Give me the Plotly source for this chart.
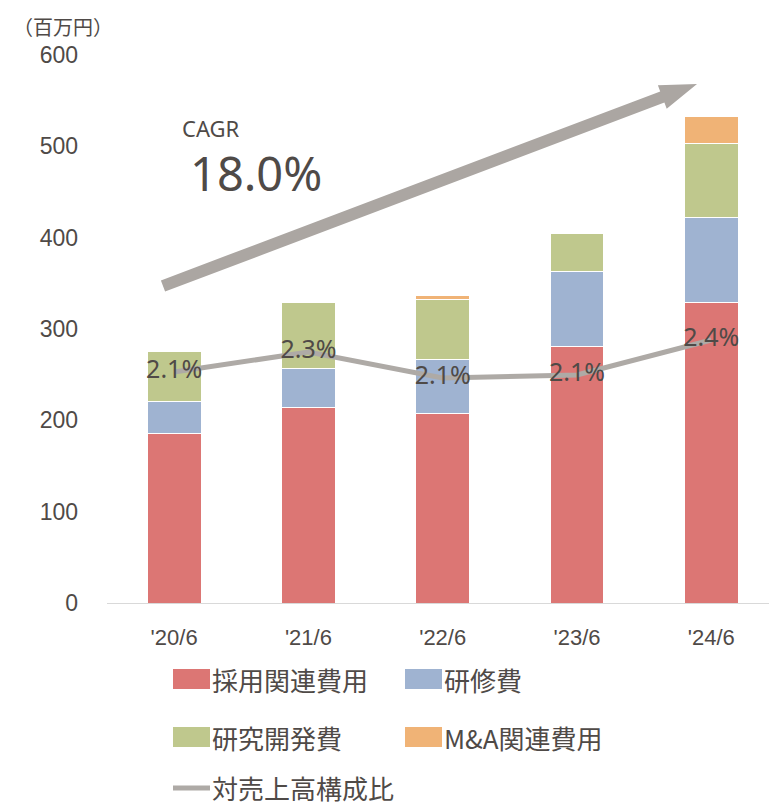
import plotly.graph_objects as go

# ---- data ----
categories = ["'20/6", "'21/6", "'22/6", "'23/6", "'24/6"]
recruit = [186, 214, 207, 281, 329]      # 採用関連費用
training = [35, 43, 60, 82, 93]          # 研修費
rnd = [54, 72, 65, 42, 81]               # 研究開発費
mna = [0, 0, 5, 0, 30]                   # M&A関連費用
ratio = [2.12, 2.32, 2.06, 2.09, 2.44]   # 対売上高構成比 (%)
y_ticks = [0, 100, 200, 300, 400, 500, 600]

series_names = ["採用関連費用", "研修費", "研究開発費", "M&A関連費用"]
series_vals = [recruit, training, rnd, mna]
colors = ["#DC7674", "#9FB3D1", "#BFC88D", "#F0B376"]
line_color = "#AEAAA6"
text_color = "#4F4A47"

W, H = 769, 806
L, R, T, B = 107, 0, 55, 203
PW, PH = W - L - R, H - T - B

def px(x):
    return (x - L) / PW

def py(y):
    return (H - B - y) / PH

fig = go.Figure()
for name, vals, col in zip(series_names, series_vals, colors):
    fig.add_trace(go.Bar(
        x=categories, y=vals, name=name,
        marker=dict(color=col, line=dict(color="white", width=1)),
        showlegend=False, hoverinfo="y+name",
    ))

fig.add_trace(go.Scatter(
    x=categories, y=ratio, name="対売上高構成比", yaxis="y2",
    mode="lines+text", line=dict(color=line_color, width=5),
    text=[f"{v:.1f}%" for v in ratio], textposition="middle center",
    textfont=dict(family="Noto Sans", size=25, color=text_color),
    showlegend=False,
))

shapes = []
annotations = []

# arrow (decoration)
arrow_pts = [(165.1, 291.6), (160.9, 280.4), (660.2, 91.4), (657.9, 85.3),
             (697, 84), (666.7, 108.7), (664.4, 102.6)]
path = "M " + " L ".join(f"{px(x):.5f},{py(y):.5f}" for x, y in arrow_pts) + " Z"
shapes.append(dict(type="path", xref="paper", yref="paper", path=path,
                   fillcolor="#ABA6A2", line=dict(width=0)))

annotations.append(dict(text="CAGR", x=px(180), y=py(128), xref="paper", yref="paper",
                        xanchor="left", yanchor="middle", showarrow=False,
                        font=dict(family="Noto Sans", size=22, color=text_color)))
annotations.append(dict(text="18.0%", x=px(188), y=py(173), xref="paper", yref="paper",
                        xanchor="left", yanchor="middle", showarrow=False,
                        font=dict(family="Noto Sans", size=47, color=text_color)))
annotations.append(dict(text="（百万円）", x=px(11), y=py(27), xref="paper", yref="paper",
                        xanchor="left", yanchor="middle", showarrow=False,
                        font=dict(family="Noto Sans CJK JP", size=20, color=text_color)))

# manual legend
legend_items = [
    (series_names[0], colors[0], 173, 679, "bar"),
    (series_names[1], colors[1], 405, 679, "bar"),
    (series_names[2], colors[2], 173, 737, "bar"),
    (series_names[3], colors[3], 405, 737, "bar"),
    ("対売上高構成比", line_color, 173, 788, "line"),
]
for name, col, x0, yc, kind in legend_items:
    if kind == "bar":
        shapes.append(dict(type="rect", xref="paper", yref="paper",
                           x0=px(x0), x1=px(x0 + 37), y0=py(yc - 10), y1=py(yc + 10),
                           fillcolor=col, line=dict(width=0)))
    else:
        shapes.append(dict(type="line", xref="paper", yref="paper",
                           x0=px(x0), x1=px(x0 + 37), y0=py(yc), y1=py(yc),
                           line=dict(color=col, width=5)))
    annotations.append(dict(text=name, x=px(x0 + 38), y=py(yc), xref="paper", yref="paper",
                            xanchor="left", yanchor="middle", showarrow=False, borderpad=0,
                            font=dict(family="Noto Sans CJK JP", size=26, color=text_color)))

fig.update_layout(
    width=W, height=H,
    margin=dict(l=L, r=R, t=T, b=B, autoexpand=False),
    barmode="stack", bargap=0.6,
    plot_bgcolor="white", paper_bgcolor="white",
    showlegend=False,
    xaxis=dict(range=[-0.5, 4.43], showline=True, linecolor="#D9D9D9", linewidth=1,
               ticks="", showgrid=False, ticklabelstandoff=15,
               tickfont=dict(family="Liberation Sans", size=22, color=text_color)),
    yaxis=dict(range=[0, 600], tickvals=y_ticks, showgrid=False, zeroline=False,
               showline=False, ticks="", ticklabelstandoff=28,
               tickfont=dict(family="Liberation Sans", size=23, color=text_color)),
    yaxis2=dict(range=[-0.19, 5.29], overlaying="y", visible=False),
    shapes=shapes, annotations=annotations,
)

fig.write_html(
    "out.html",
    config={"displayModeBar": False},
    post_script="document.body.style.margin='0';document.body.style.padding='0';"
                "document.body.style.overflow='hidden';",
)
